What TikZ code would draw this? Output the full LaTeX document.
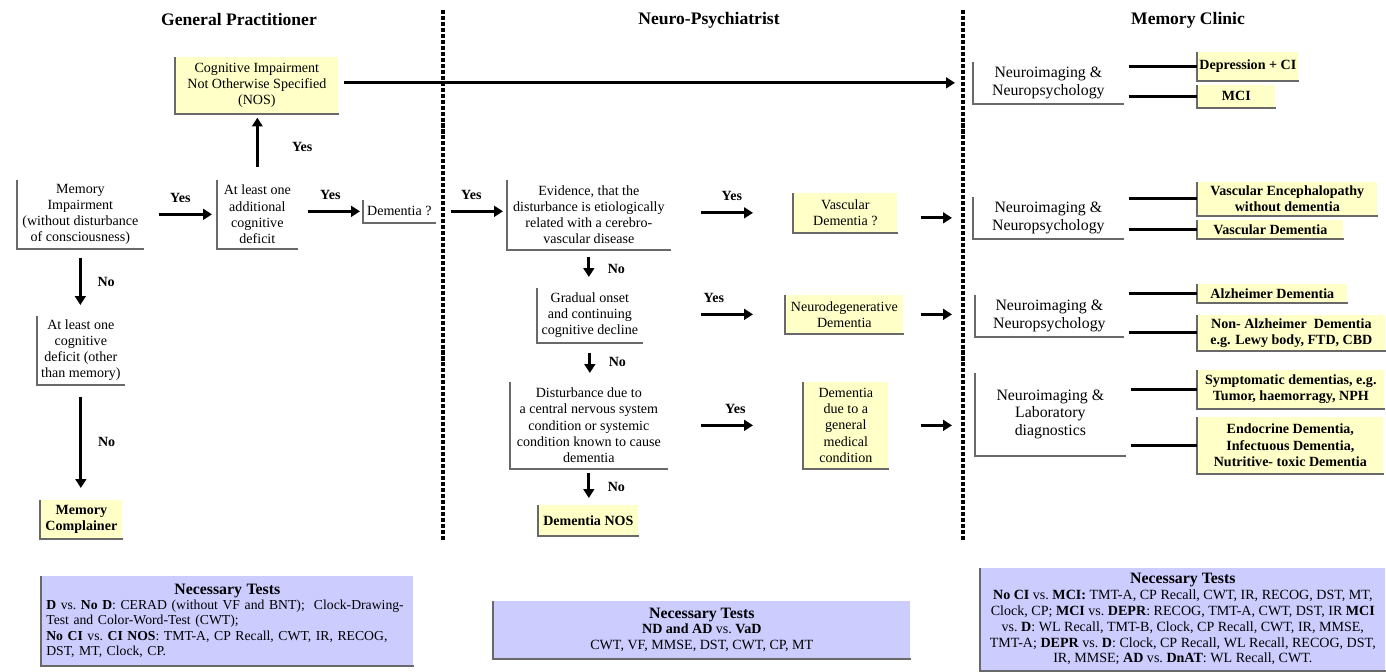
\documentclass[tikz,border=0pt]{standalone}
\usepackage{fontspec}
\setmainfont{Liberation Serif}
\usepackage{tikz}
\usetikzlibrary{arrows.meta}

\definecolor{ylw}{RGB}{255,255,200}
\definecolor{lav}{RGB}{204,204,255}
\definecolor{rim}{RGB}{105,105,105}

\begin{document}
\begin{tikzpicture}
  [x=0.02cm,y=-0.02cm,
   cbox/.style={anchor=north west,align=center,inner sep=1pt,font=\fontsize{8}{9.2}\selectfont},
   res/.style={cbox,fill=ylw,font=\fontsize{8}{9.2}\selectfont\bfseries},
   nbox/.style={cbox,font=\fontsize{9}{9.8}\selectfont},
   tests/.style={anchor=north west,fill=lav,inner xsep=0.1cm,inner ysep=0.06cm,font=\fontsize{8}{9}\selectfont},
   head/.style={font=\fontsize{10}{12}\selectfont\bfseries},
   lbl/.style={font=\fontsize{8}{9}\selectfont\bfseries,inner sep=1pt},
   arr/.style={line width=1.6pt,-{Triangle[length=5pt,width=6pt]}},
   con/.style={line width=1.6pt,shorten <=0.1cm},
   frame/.style={draw=rim,line width=1.1pt},
   sep/.style={line width=1.8pt,dash pattern=on 2.3pt off 1.1pt}]
  \useasboundingbox (0,0) rectangle (1386,672);

  \node[head] (hgp) at (239,19) {General Practitioner};
  \node[head] (hnp) at (709,20) {Neuro-Psychiatrist};
  \node[head] (hmc) at (1188,20) {Memory Clinic};

  \draw[sep] (443,10) -- (443,540);
  \draw[sep] (963,10) -- (963,540);

  % general practitioner
  \node[cbox,fill=ylw,minimum width=3.26cm,minimum height=1.12cm] (nos) at (175,57) {Cognitive Impairment\\Not Otherwise Specified\\(NOS)};
  \node[cbox,minimum width=2.52cm,minimum height=1.36cm] (mi) at (17,180) {Memory\\Impairment\\(without disturbance\\of consciousness)};
  \node[cbox,minimum width=1.6cm,minimum height=1.36cm] (ald) at (217,180) {At least one\\additional\\cognitive\\deficit};
  \node[cbox,minimum width=1.44cm,minimum height=0.44cm] (dq) at (363,200) {Dementia ?};
  \node[cbox,minimum width=1.74cm,minimum height=1.36cm] (al1) at (37,316) {At least one\\cognitive\\deficit (other\\than memory)};
  \node[res,minimum width=1.64cm,minimum height=0.76cm] (mc) at (40,500) {Memory\\Complainer};
  \node[tests,minimum width=7.44cm,minimum height=1.78cm,text width=7.24cm,align=left,font=\fontsize{7.8}{8.8}\selectfont] (gpt) at (41,576)
    {\makebox[\hsize]{\fontsize{9}{10}\selectfont\bfseries Necessary Tests}\\
     \mbox{\textbf{D} vs.\ \textbf{No D}: CERAD (without VF and BNT);\ \ Clock-Drawing-}\\
     Test and Color-Word-Test (CWT);\\
     \mbox{\textbf{No CI} vs.\ \textbf{CI NOS}: TMT-A, CP Recall, CWT, IR, RECOG,}\\
     DST, MT, Clock, CP.};

  % neuro-psychiatrist
  \node[cbox,minimum width=3.26cm,minimum height=1.38cm] (ev) at (507,180) {Evidence, that the\\disturbance is etiologically\\related with a cerebro-\\vascular disease};
  \node[cbox,minimum width=2.1cm,minimum height=1.08cm] (go) at (537,288) {Gradual onset\\and continuing\\cognitive decline};
  \node[cbox,minimum width=3.14cm,minimum height=1.72cm] (dist) at (510,382) {Disturbance due to\\a central nervous system\\condition or systemic\\condition known to cause\\dementia};
  \node[cbox,fill=ylw,minimum width=2.08cm,minimum height=0.78cm] (vd) at (793,193) {Vascular\\Dementia ?};
  \node[cbox,fill=ylw,minimum width=2.36cm,minimum height=0.76cm] (nd) at (785,295) {Neurodegenerative\\Dementia};
  \node[cbox,fill=ylw,minimum width=1.7cm,minimum height=1.72cm] (gmc) at (803,382) {Dementia\\due to a\\general\\medical\\condition};
  \node[res,minimum width=2cm,minimum height=0.6cm] (dnos) at (538,505) {Dementia NOS};
  \node[tests,minimum width=8.34cm,minimum height=1.14cm,align=center] (npt) at (493,601)
    {{\fontsize{9}{10}\selectfont\bfseries Necessary Tests}\\
     \textbf{ND and AD} vs.\ \textbf{VaD}\\
     CWT, VF, MMSE, DST, CWT, CP, MT};

  % memory clinic
  \node[nbox,minimum width=3cm,minimum height=0.82cm] (ni1) at (973,62) {Neuroimaging \&\\Neuropsychology};
  \node[nbox,minimum width=3cm,minimum height=0.82cm] (ni2) at (973,197) {Neuroimaging \&\\Neuropsychology};
  \node[nbox,minimum width=2.96cm,minimum height=0.82cm] (ni3) at (975,295) {Neuroimaging \&\\Neuropsychology};
  \node[nbox,minimum width=3cm,minimum height=1.64cm] (ni4) at (975,373) {Neuroimaging \&\\Laboratory\\diagnostics};
  \node[res,minimum width=2.02cm,minimum height=0.56cm] (dep) at (1197,52) {Depression + CI};
  \node[res,minimum width=1.56cm,minimum height=0.44cm] (mci) at (1197,85) {MCI};
  \node[res,minimum width=3.6cm,minimum height=0.66cm] (ve) at (1197,182) {Vascular Encephalopathy\\without dementia};
  \node[res,minimum width=2.92cm,minimum height=0.36cm] (vdem) at (1197,220) {Vascular Dementia};
  \node[res,minimum width=3cm,minimum height=0.36cm] (ad) at (1197,284) {Alzheimer Dementia};
  \node[res,minimum width=3.76cm,minimum height=0.7cm] (nad) at (1197,315) {Non- Alzheimer\ \ Dementia\\e.g. Lewy body, FTD, CBD};
  \node[res,minimum width=3.74cm,minimum height=0.76cm] (sym) at (1197,370) {Symptomatic dementias, e.g.\\Tumor, haemorragy, NPH};
  \node[res,minimum width=3.72cm,minimum height=1.12cm] (endo) at (1197,417) {Endocrine Dementia,\\Infectuous Dementia,\\Nutritive- toxic Dementia};
  \node[tests,minimum width=8.1cm,minimum height=2.04cm,align=center] (mct) at (980,568)
    {{\fontsize{9}{10}\selectfont\bfseries Necessary Tests}\\
     \textbf{No CI} vs.\ \textbf{MCI:} TMT-A, CP Recall, CWT, IR, RECOG, DST, MT,\\
     Clock, CP; \textbf{MCI} vs.\ \textbf{DEPR}: RECOG, TMT-A, CWT, DST, IR \textbf{MCI}\\
     vs.\ \textbf{D}: WL Recall, TMT-B, Clock, CP Recall, CWT, IR, MMSE,\\
     TMT-A; \textbf{DEPR} vs.\ \textbf{D}: Clock, CP Recall, WL Recall, RECOG, DST,\\
     IR, MMSE; \textbf{AD} vs.\ \textbf{DnAT}: WL Recall, CWT.};

  \foreach \n in {nos,mi,ald,dq,al1,mc,gpt,ev,go,dist,vd,nd,gmc,dnos,npt,ni1,ni2,ni3,ni4,dep,mci,ve,vdem,ad,nad,sym,endo,mct}
    \draw[frame] (\n.north west) |- (\n.south east);

  \draw[arr,shorten <=0.3cm,shorten >=0.1cm] (mi) -- node[lbl,above=5pt] {Yes} (ald);
  \draw[arr,shorten <=0.2cm,shorten >=0.06cm] (ald.east |- dq) -- node[lbl,above=5pt] {Yes} (dq);
  \draw[arr,shorten <=0.26cm,shorten >=0.08cm] (ald.north) -- node[lbl,right=18pt] {Yes} (ald.north |- nos.south);
  \draw[arr,shorten <=0.18cm,shorten >=0.22cm] (mi.south) -- node[lbl,right=8pt] {No} (mi.south |- al1.north);
  \draw[arr,shorten <=0.24cm,shorten >=0.24cm] (al1.south) -- node[lbl,right=8pt] {No} (al1.south |- mc.north);
  \draw[arr,shorten <=0.1cm,shorten >=0.36cm] (nos.east |- ni1) -- (ni1);

  \draw[arr,shorten <=0.3cm,shorten >=0.08cm] (dq) -- node[lbl,above=5pt] {Yes} (dq -| ev.west);
  \draw[arr,shorten <=0.6cm,shorten >=0.8cm] (ev.east |- vd) -- node[lbl,above=5pt] {Yes} (vd);
  \draw[arr,shorten <=1.16cm,shorten >=0.64cm] (go.east |- nd) -- node[lbl,above=5pt] {Yes} (nd);
  \draw[arr,shorten <=0.66cm,shorten >=1cm] (dist) -- node[lbl,above=5pt] {Yes} (gmc);
  \draw[arr,shorten <=0.14cm,shorten >=0.22cm] (ev.south) -- node[lbl,right=9pt] {No} (ev.south |- go.north);
  \draw[arr,shorten <=0.2cm,shorten >=0.18cm] (go.south) -- node[lbl,right=9pt] {No} (go.south |- dist.north);
  \draw[arr,shorten <=0.08cm,shorten >=0.14cm] (dist.south) -- node[lbl,right=9pt] {No} (dist.south |- dnos.north);

  \draw[arr,shorten <=0.46cm,shorten >=0.42cm] (vd.east |- ni2) -- (ni2);
  \draw[arr,shorten <=0.34cm,shorten >=0.46cm] (nd) -- (nd -| ni3.west);
  \draw[arr,shorten <=0.64cm,shorten >=0.46cm] (gmc) -- (gmc -| ni4.west);

  \foreach \from/\to in {ni1/dep,ni1/mci,ni2/ve,ni2/vdem,ni3/ad,ni3/nad,ni4/sym,ni4/endo}
    \draw[con] (\to.west -| \from.east) -- (\to.west);

\end{tikzpicture}
\end{document}
